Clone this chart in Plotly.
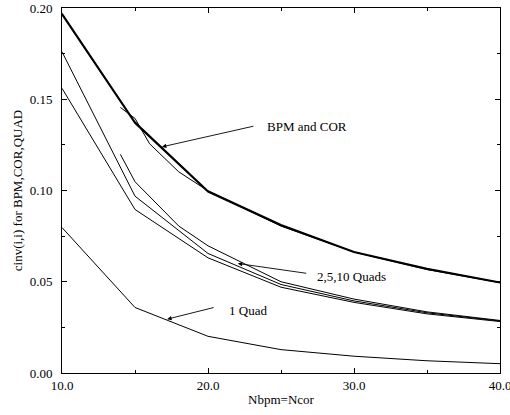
import plotly.graph_objects as go

# x positions (Nbpm = Ncor)
x_full = [10, 15, 20, 25, 30, 35, 40]
x_bpm_late = [14, 15, 16, 18, 20, 25, 30, 35, 40]
x_quad_late = [14, 15, 18, 20, 25, 30, 35, 40]

# BPM and COR curves
bpm_a = [0.197, 0.1375, 0.0997, 0.0813, 0.0665, 0.0573, 0.0497]
bpm_b = [0.1963, 0.1368, 0.0993, 0.0808, 0.0661, 0.0569, 0.0494]
bpm_c = [0.1455, 0.1395, 0.1256, 0.1102, 0.0998, 0.0805, 0.0663, 0.0567, 0.0495]

# 2,5,10 Quads curves
quad_a = [0.176, 0.0969, 0.0655, 0.0485, 0.0395, 0.0330, 0.0285]
quad_b = [0.156, 0.0896, 0.0631, 0.0470, 0.0387, 0.0324, 0.0282]
quad_c = [0.1198, 0.1048, 0.0805, 0.0697, 0.0500, 0.0405, 0.0335, 0.0288]

# 1 Quad curve
quad_1 = [0.0797, 0.0359, 0.0201, 0.0128, 0.0092, 0.0067, 0.0051]

x_ticks = [10, 20, 30, 40]
x_ticktext = ["10.0", "20.0", "30.0", "40.0"]
y_ticks = [0.0, 0.05, 0.10, 0.15, 0.20]
y_ticktext = ["0.00", "0.05", "0.10", "0.15", "0.20"]

FONT = "Liberation Serif"

fig = go.Figure()

def add(x, y, w):
    fig.add_trace(go.Scatter(x=x, y=y, mode="lines",
                             line=dict(color="black", width=w),
                             showlegend=False, hoverinfo="skip"))

add(x_full, bpm_a, 1.5)
add(x_full, bpm_b, 1.5)
add(x_bpm_late, bpm_c, 1)
add(x_full, quad_a, 1)
add(x_full, quad_b, 1)
add(x_quad_late, quad_c, 1)
add(x_full, quad_1, 1)

# annotations: arrows (empty text) + labels
arrows = [
    # head x, head y, tail offset px (ax, ay)
    (16.84, 0.1239, 93, -21),
    (22.04, 0.0600, 70, 10),
    (17.2, 0.0295, 48, -12),
]
for hx, hy, ax, ay in arrows:
    fig.add_annotation(x=hx, y=hy, ax=ax, ay=ay, text="", showarrow=True,
                       arrowhead=2, arrowsize=1, arrowwidth=0.9,
                       arrowcolor="black")

labels = [
    ("BPM and COR", 23.93, 0.1349),
    ("2,5,10 Quads", 27.36, 0.0530),
    ("1 Quad", 21.32, 0.0344),
]
for t, lx, ly in labels:
    fig.add_annotation(x=lx, y=ly, text=t, showarrow=False, xanchor="left",
                       yanchor="middle", font=dict(family=FONT, size=13, color="black"))

fig.update_layout(
    width=510, height=415,
    margin=dict(l=62, r=10, t=8, b=42, autoexpand=False),
    paper_bgcolor="white", plot_bgcolor="white",
    font=dict(family=FONT, size=13, color="black"),
    showlegend=False,
)
fig.update_xaxes(
    range=[10, 40], tickvals=x_ticks, ticktext=x_ticktext, automargin=False,
    showline=True, linecolor="black", linewidth=1, mirror="ticks",
    ticks="inside", ticklen=5, tickcolor="black", ticklabeloverflow="allow",
    minor=dict(ticks="inside", ticklen=3, dtick=5, tick0=10, tickcolor="black"),
    showgrid=False, zeroline=False,
    title=dict(text="Nbpm=Ncor", standoff=3, font=dict(size=13)),
)
fig.update_yaxes(
    range=[0, 0.2], tickvals=y_ticks, ticktext=y_ticktext, automargin=False,
    showline=True, linecolor="black", linewidth=1, mirror="ticks",
    ticks="inside", ticklen=5, tickcolor="black", ticklabeloverflow="allow",
    ticklabelstandoff=6,
    minor=dict(ticks="inside", ticklen=3, dtick=0.025, tick0=0, tickcolor="black"),
    showgrid=False, zeroline=False,
    title=dict(text="cinv(i,i) for BPM,COR,QUAD", standoff=4, font=dict(size=13)),
)

fig.write_html(
    "out.html",
    config={"displayModeBar": False},
    post_script="document.body.style.margin='0';document.body.style.overflow='hidden';",
)
